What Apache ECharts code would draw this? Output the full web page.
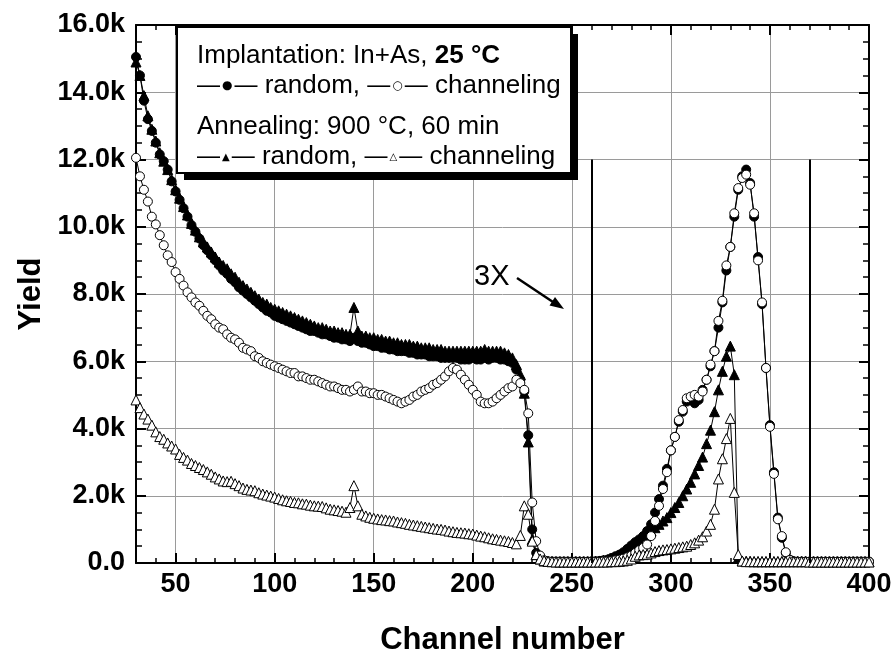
<!DOCTYPE html>
<html><head><meta charset="utf-8">
<script src="https://cdn.jsdelivr.net/npm/echarts@6/dist/echarts.min.js"></script>
<style>html,body{margin:0;padding:0;background:#fff}#c{width:892px;height:655px}</style>
</head><body><div id="c"></div>
<script>
// ---- data (channel number vs yield) ----
const channels = [
 30,32,34,36,38,40,42,44,46,48,
 50,52,54,56,58,60,62,64,66,68,
 70,72,74,76,78,80,82,84,86,88,
 90,92,94,96,98,100,102,104,106,108,
 110,112,114,116,118,120,122,124,126,128,
 130,132,134,136,138,140,142,144,146,148,
 150,152,154,156,158,160,162,164,166,168,
 170,172,174,176,178,180,182,184,186,188,
 190,192,194,196,198,200,202,204,206,208,
 210,212,214,216,218,220,222,224,226,228,
 230,232,234,236,238,240,242,244,246,248,
 250,252,254,256,258,260,262,264,266,268,
 270,272,274,276,278,280,282,284,286,288,
 290,292,294,296,298,300,302,304,306,308,
 310,312,314,316,318,320,322,324,326,328,
 330,332,334,336,338,340,342,344,346,348,
 350,352,354,356,358,360,362,364,366,368,
 370,372,374,376,378,380,382,384,386,388,
 390,392,394,396,398,400
];
// Implantation In+As 25 C, random (filled circles)
const implRandom = [
 15050,14500,13750,13200,12850,12500,12150,11950,11700,11350,
 11050,10800,10550,10300,10050,9850,9650,9450,9300,9150,
 9000,8850,8700,8600,8450,8350,8200,8100,8000,7900,
 7800,7700,7600,7500,7450,7350,7300,7250,7200,7150,
 7100,7050,7000,6950,6900,6900,6850,6800,6800,6750,
 6700,6700,6650,6650,6600,6700,6600,6550,6550,6500,
 6450,6450,6400,6400,6350,6350,6300,6300,6300,6250,
 6250,6200,6200,6200,6150,6150,6150,6100,6100,6100,
 6100,6100,6050,6050,6050,6100,6050,6050,6100,6050,
 6100,6100,6050,6050,6000,5950,5750,5450,5100,3800,
 1000,300,150,70,40,40,40,40,40,40,
 40,40,40,40,40,50,50,60,80,100,
 150,200,250,320,420,520,620,700,800,950,
 1150,1500,1900,2300,2800,3350,3750,4200,4500,4800,
 4850,4750,4850,5150,5450,5850,6300,7000,7750,8700,
 9400,10300,11100,11500,11700,11300,10300,9100,7700,5800,
 4100,2700,1350,750,300,100,50,40,40,40,
 40,40,40,40,40,40,40,40,40,40,
 40,40,40,40,40,40
];
// Implantation, channeling (open circles)
const implChanneling = [
 12050,11500,11100,10750,10300,10070,9750,9450,9150,8950,
 8650,8450,8250,8050,7900,7750,7650,7500,7350,7250,
 7100,7000,6950,6800,6700,6650,6550,6400,6350,6300,
 6150,6100,6000,5950,5900,5850,5800,5750,5700,5650,
 5650,5550,5550,5500,5450,5450,5400,5350,5300,5250,
 5250,5200,5150,5150,5100,5150,5250,5100,5100,5050,
 5050,5000,5000,4950,4900,4850,4800,4750,4800,4850,
 4950,5000,5100,5150,5200,5300,5350,5450,5550,5700,
 5800,5750,5600,5450,5300,5150,5000,4800,4750,4750,
 4800,4900,5000,5100,5200,5250,5450,5350,5150,4450,
 1800,650,220,80,50,40,40,40,40,40,
 40,40,40,40,40,40,40,40,50,50,
 60,80,100,130,170,220,300,380,450,550,
 800,1250,1700,2200,2700,3350,3750,4250,4550,4900,
 4950,5000,4950,5100,5450,5900,6300,7200,7800,8850,
 9400,10400,11150,11450,11550,11250,10400,9000,7750,5800,
 4050,2650,1300,800,320,90,40,40,40,40,
 40,40,40,40,40,40,40,40,40,40,
 40,40,40,40,40,40
];
// Annealing 900 C 60 min, random (filled triangles)
const annRandom = [
 14900,14500,13900,13300,12900,12550,12200,11950,11700,11400,
 11100,10850,10600,10350,10100,9900,9700,9550,9400,9250,
 9100,8950,8850,8750,8600,8500,8350,8250,8150,8050,
 7950,7850,7750,7700,7600,7550,7500,7450,7400,7350,
 7300,7250,7200,7150,7100,7050,7000,7000,6950,6900,
 6900,6850,6850,6800,6800,7600,6900,6750,6750,6700,
 6700,6650,6650,6600,6600,6550,6550,6500,6500,6500,
 6450,6450,6400,6400,6400,6350,6350,6350,6300,6300,
 6300,6300,6300,6300,6300,6300,6300,6300,6350,6300,
 6300,6300,6300,6250,6200,6100,5900,5600,5050,3600,
 700,250,120,60,50,40,40,40,40,40,
 40,40,40,40,40,40,50,60,80,100,
 130,170,220,300,420,520,600,700,780,850,
 950,1050,1150,1250,1350,1500,1650,1800,2000,2200,
 2400,2650,2900,3150,3550,3950,4500,5150,5700,6150,
 6450,5600,150,60,50,50,40,40,40,40,
 40,40,40,40,40,40,40,40,40,40,
 40,40,40,40,40,40,40,40,40,40,
 40,40,40,40,40,40
];
// Annealing, channeling (open triangles)
const annChanneling = [
 4850,4620,4430,4280,4100,3900,3760,3680,3570,3480,
 3390,3230,3140,3060,2960,2900,2840,2780,2710,2640,
 2560,2500,2440,2420,2430,2360,2300,2230,2190,2170,
 2150,2090,2050,2020,1990,1960,1920,1880,1850,1830,
 1800,1790,1760,1750,1720,1700,1690,1680,1640,1600,
 1580,1560,1540,1510,1650,2300,1700,1450,1400,1360,
 1330,1310,1290,1280,1260,1250,1220,1200,1180,1150,
 1130,1110,1090,1070,1050,1030,1010,1000,980,950,
 930,910,900,890,870,860,830,800,780,750,
 720,700,680,660,640,610,570,820,1700,1450,
 650,250,120,70,50,40,30,30,30,30,
 30,30,30,30,30,30,30,30,30,30,
 40,40,50,60,80,120,200,240,250,260,
 300,340,370,390,400,420,440,460,480,500,
 550,600,680,780,950,1150,1600,2500,3100,3700,
 4300,2100,250,60,40,40,40,40,40,40,
 40,40,40,40,40,40,40,40,40,40,
 30,30,30,30,30,30,30,30,30,30,
 30,30,30,30,30,30
];
// vertical divider lines (channel) and their height (yield)
const dividerChannels = [260, 370];
const dividerTop = 12000;
// legend / annotation texts
const legendLine1 = '{n|Implantation: In+As, }{b|25 °C}';
const legendLine2 = '{d|—}{sym|●}{d|—}{n| random, }{d|—}{sym|○}{d|—}{n| channeling}';
const legendLine3 = '{n|Annealing: 900 °C, 60 min}';
const legendLine4 = '{d|—}{tri|▲}{d|—}{n| random, }{d|—}{tri|△}{d|—}{n| channeling}';
const annotationText = '3X';

const FONT = "'Liberation Sans', Arial, Helvetica, sans-serif";
const chart = echarts.init(document.getElementById('c'), null, {renderer: 'canvas'});
function pairs(vals) { return channels.map((c, i) => [c, vals[i]]); }

const frameLine = {show: true, onZero: false, lineStyle: {color: '#000', width: 2}};
const majorTick = {show: true, inside: true, length: 10, lineStyle: {color: '#000', width: 2}};
const minorTickX = {show: true, inside: true, length: 5, lineStyle: {color: '#000', width: 1.5}};
const gridLine = {show: true, lineStyle: {color: '#9a9a9a', width: 1}};

function mk(name, vals, symbol, filled, size) {
  return {
    name, type: 'line', xAxisIndex: 0, yAxisIndex: 0, data: pairs(vals),
    symbol, symbolSize: size, showSymbol: true, showAllSymbol: true,
    lineStyle: {color: '#000', width: 1},
    itemStyle: {color: filled ? '#000' : '#fff', borderColor: '#000', borderWidth: 1},
    emphasis: {disabled: true}, silent: true
  };
}

const sIR = mk('impl random', implRandom, 'circle', true, 9);
sIR.markLine = {
  silent: true, symbol: ['none', 'none'], label: {show: false},
  lineStyle: {color: '#000', width: 2, type: 'solid'},
  data: dividerChannels.map(c => [{coord: [c, 0]}, {coord: [c, dividerTop]}])
};

const nTxt = {fontFamily: FONT, fontSize: 26, fill: '#000'};
const dTxt = {fontFamily: FONT, fontSize: 23, fill: '#000'};

const option = {
  animation: false,
  backgroundColor: '#fff',
  grid: {left: 136, right: 23, top: 25, bottom: 92, containLabel: false, outerBoundsMode: 'none'},
  xAxis: [
    {type: 'value', min: 30, max: 400, splitNumber: 8, position: 'bottom',
     axisLine: frameLine, axisTick: majorTick,
     axisLabel: {show: true, showMinLabel: false, color: '#000', fontFamily: FONT, fontSize: 27, fontWeight: 'bold', margin: 8},
     splitLine: gridLine,
     name: 'Channel number', nameLocation: 'middle', nameGap: 62,
     nameTextStyle: {color: '#000', fontFamily: FONT, fontSize: 31, fontWeight: 'bold'}},
    {type: 'value', min: 30, max: 400, interval: 10, position: 'bottom',
     axisLine: {show: false, onZero: false}, axisTick: minorTickX, axisLabel: {show: false}, splitLine: {show: false}},
    {type: 'value', min: 30, max: 400, splitNumber: 8, position: 'top',
     axisLine: frameLine, axisTick: majorTick, axisLabel: {show: false}, splitLine: {show: false}},
    {type: 'value', min: 30, max: 400, interval: 10, position: 'top',
     axisLine: {show: false, onZero: false}, axisTick: minorTickX, axisLabel: {show: false}, splitLine: {show: false}}
  ],
  yAxis: [
    {type: 'value', min: 0, max: 16000, interval: 2000, position: 'left',
     axisLine: frameLine, axisTick: majorTick,
     minorTick: {show: true, splitNumber: 4, length: 6, lineStyle: {color: '#000', width: 1.5}},
     minorSplitLine: {show: false},
     axisLabel: {color: '#000', fontFamily: FONT, fontSize: 27, fontWeight: 'bold', margin: 11,
       formatter: v => v === 0 ? '0.0' : (v / 1000).toFixed(1) + 'k'},
     splitLine: gridLine,
     name: 'Yield', nameLocation: 'middle', nameGap: 88,
     nameTextStyle: {color: '#000', fontFamily: FONT, fontSize: 31, fontWeight: 'bold'}},
    {type: 'value', min: 0, max: 16000, interval: 2000, position: 'right',
     axisLine: frameLine, axisTick: majorTick,
     minorTick: {show: true, splitNumber: 4, length: 6, lineStyle: {color: '#000', width: 1.5}},
     axisLabel: {show: false}, splitLine: {show: false}}
  ],
  series: [
    sIR,
    mk('ann random', annRandom, 'triangle', true, 10),
    mk('impl channeling', implChanneling, 'circle', false, 9),
    mk('ann channeling', annChanneling, 'triangle', false, 10)
  ],
  graphic: [
    {type: 'rect', z: 100, shape: {x: 184, y: 34, width: 394, height: 146}, style: {fill: '#000'}},
    {type: 'rect', z: 101, shape: {x: 177, y: 27, width: 394, height: 146}, style: {fill: '#fff', stroke: '#000', lineWidth: 2}},
    {type: 'text', z: 102, x: 197, y: 56, style: {text: legendLine1, verticalAlign: 'middle',
      rich: {n: nTxt, b: {fontFamily: FONT, fontSize: 26, fontWeight: 'bold', fill: '#000'}}}},
    {type: 'text', z: 102, x: 197, y: 86, style: {text: legendLine2, verticalAlign: 'middle',
      rich: {n: nTxt, d: dTxt, sym: {fontFamily: "'DejaVu Sans', sans-serif", fontSize: 12, fill: '#000', padding: [0, 2, 0, 2]}}}},
    {type: 'text', z: 102, x: 197, y: 127, style: {text: legendLine3, verticalAlign: 'middle',
      rich: {n: nTxt}}},
    {type: 'text', z: 102, x: 197, y: 157, style: {text: legendLine4, verticalAlign: 'middle',
      rich: {n: nTxt, d: dTxt, tri: {fontFamily: "'DejaVu Sans', sans-serif", fontSize: 10, fill: '#000', padding: [0, 2, 0, 2]}}}},
    {type: 'text', z: 102, x: 474, y: 277, style: {text: annotationText, verticalAlign: 'middle', font: '29px ' + FONT, fill: '#000'}},
    {type: 'line', z: 102, shape: {x1: 517, y1: 278, x2: 553, y2: 302}, style: {stroke: '#000', lineWidth: 2.5}},
    {type: 'polygon', z: 102, shape: {points: [[564, 309], [555, 297], [549.5, 305.5]]}, style: {fill: '#000'}}
  ]
};
chart.setOption(option);
</script>
</body></html>
